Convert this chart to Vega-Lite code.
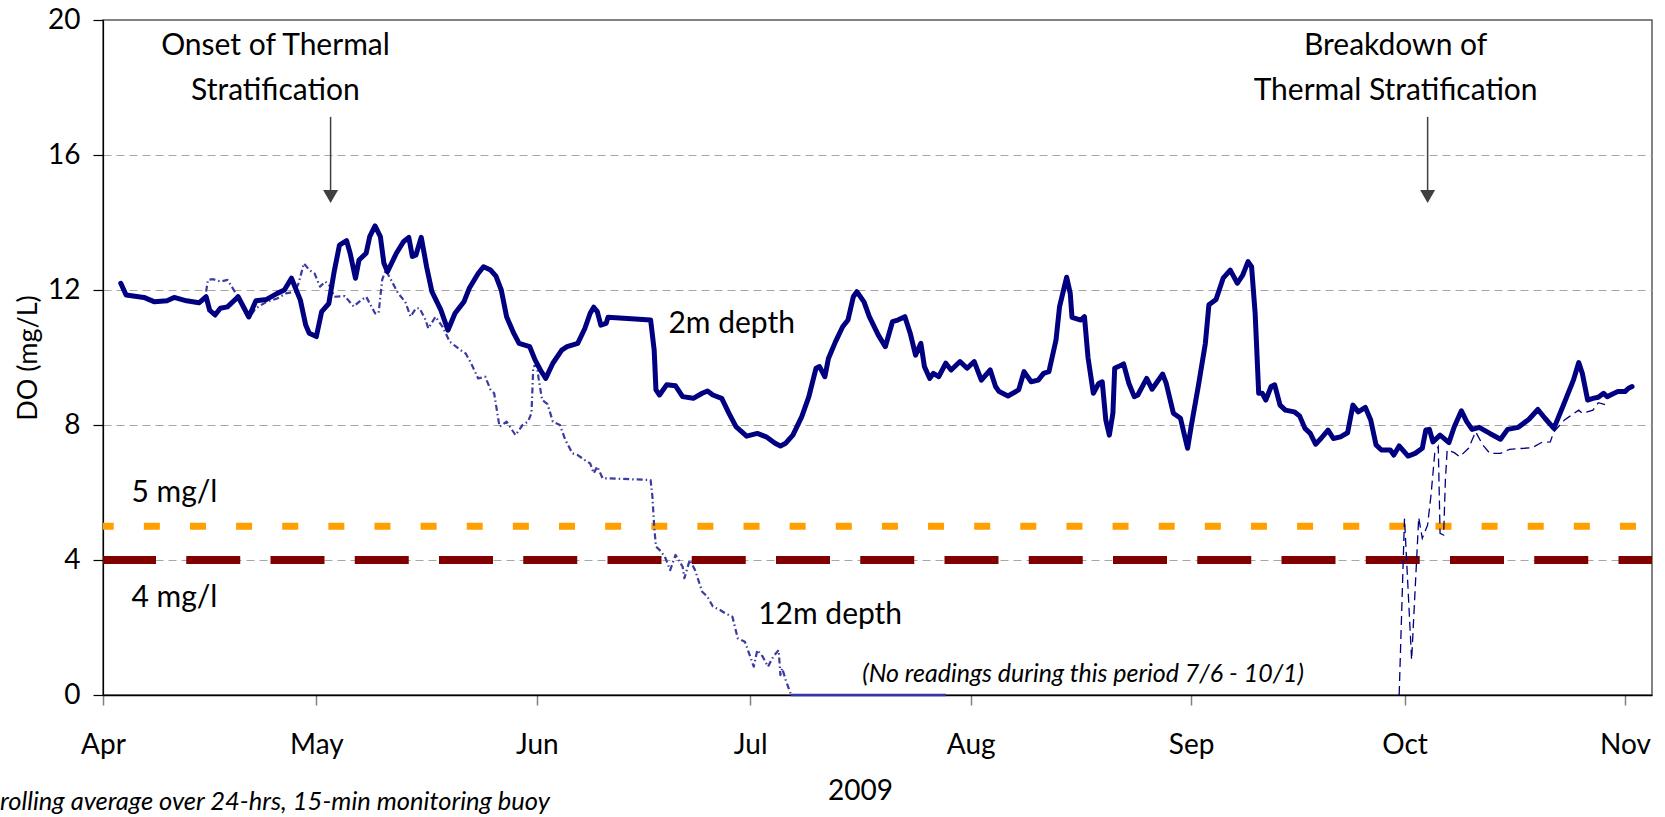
{
  "$schema": "https://vega.github.io/schema/vega-lite/v6.json",
  "width": 1549,
  "height": 675,
  "autosize": "none",
  "padding": {"left": 103, "top": 20, "right": 13, "bottom": 122},
  "background": "white",
  "config": {
    "font": "Lato",
    "view": {"stroke": "#595959", "strokeWidth": 1.5},
    "axis": {"labelFont": "Lato", "titleFont": "Lato"},
    "text": {"font": "Lato"}
  },
  "title": {
    "text": "rolling average over 24-hrs, 15-min monitoring buoy",
    "orient": "bottom", "anchor": "start", "frame": "group",
    "dx": -103, "offset": -15,
    "font": "Lato", "fontSize": 25.5, "fontStyle": "italic", "fontWeight": "normal", "color": "#000000"
  },
  "datasets": {
    "do2m": [
      {"date":"2009-04-03T12:00Z","v":12.2},{"date":"2009-04-04T06:00Z","v":11.85},{"date":"2009-04-05T06:00Z","v":11.82},{"date":"2009-04-06T18:00Z","v":11.78},{"date":"2009-04-08T06:00Z","v":11.65},{"date":"2009-04-10T00:00Z","v":11.68},{"date":"2009-04-11T00:00Z","v":11.78},{"date":"2009-04-12T18:00Z","v":11.68},{"date":"2009-04-14T12:00Z","v":11.62},{"date":"2009-04-15T12:00Z","v":11.8},{"date":"2009-04-16T00:00Z","v":11.4},{"date":"2009-04-16T18:00Z","v":11.26},{"date":"2009-04-17T12:00Z","v":11.46},{"date":"2009-04-18T12:00Z","v":11.5},{"date":"2009-04-20T00:00Z","v":11.8},{"date":"2009-04-21T12:00Z","v":11.2},{"date":"2009-04-22T12:00Z","v":11.68},{"date":"2009-04-24T00:00Z","v":11.72},{"date":"2009-04-25T12:00Z","v":11.9},{"date":"2009-04-26T12:00Z","v":12.0},{"date":"2009-04-27T12:00Z","v":12.35},{"date":"2009-04-28T18:00Z","v":11.7},{"date":"2009-04-29T12:00Z","v":10.96},{"date":"2009-04-30T00:00Z","v":10.72},
      {"date":"2009-05-01T00:00Z","v":10.62},{"date":"2009-05-01T18:00Z","v":11.36},{"date":"2009-05-02T18:00Z","v":11.6},{"date":"2009-05-03T12:00Z","v":12.54},{"date":"2009-05-04T06:00Z","v":13.33},{"date":"2009-05-05T06:00Z","v":13.46},{"date":"2009-05-05T18:00Z","v":13.09},{"date":"2009-05-06T12:00Z","v":12.35},{"date":"2009-05-07T00:00Z","v":12.89},{"date":"2009-05-08T00:00Z","v":13.09},{"date":"2009-05-08T12:00Z","v":13.58},{"date":"2009-05-09T06:00Z","v":13.9},{"date":"2009-05-10T00:00Z","v":13.58},{"date":"2009-05-10T12:00Z","v":12.79},{"date":"2009-05-11T00:00Z","v":12.54},{"date":"2009-05-12T06:00Z","v":13.09},{"date":"2009-05-13T06:00Z","v":13.43},{"date":"2009-05-14T00:00Z","v":13.56},{"date":"2009-05-14T12:00Z","v":12.99},{"date":"2009-05-15T00:00Z","v":13.04},{"date":"2009-05-15T18:00Z","v":13.56},{"date":"2009-05-16T12:00Z","v":12.69},{"date":"2009-05-17T06:00Z","v":11.95},{"date":"2009-05-18T12:00Z","v":11.41},{"date":"2009-05-19T12:00Z","v":10.81},{"date":"2009-05-20T12:00Z","v":11.31},{"date":"2009-05-21T18:00Z","v":11.65},{"date":"2009-05-22T12:00Z","v":12.05},{"date":"2009-05-23T18:00Z","v":12.49},{"date":"2009-05-24T12:00Z","v":12.69},{"date":"2009-05-25T12:00Z","v":12.59},{"date":"2009-05-26T06:00Z","v":12.41},{"date":"2009-05-27T00:00Z","v":12.0},{"date":"2009-05-27T18:00Z","v":11.21},{"date":"2009-05-28T18:00Z","v":10.72},{"date":"2009-05-29T12:00Z","v":10.42},{"date":"2009-05-31T00:00Z","v":10.32},{"date":"2009-05-31T18:00Z","v":9.93},
      {"date":"2009-06-01T12:00Z","v":9.63},{"date":"2009-06-02T06:00Z","v":9.38},{"date":"2009-06-03T06:00Z","v":9.83},{"date":"2009-06-04T12:00Z","v":10.22},{"date":"2009-06-05T06:00Z","v":10.32},{"date":"2009-06-06T18:00Z","v":10.42},{"date":"2009-06-07T18:00Z","v":10.86},{"date":"2009-06-08T12:00Z","v":11.31},{"date":"2009-06-09T00:00Z","v":11.49},{"date":"2009-06-09T12:00Z","v":11.36},{"date":"2009-06-10T00:00Z","v":10.96},{"date":"2009-06-10T18:00Z","v":11.01},{"date":"2009-06-11T00:00Z","v":11.19},{"date":"2009-06-17T00:00Z","v":11.11},{"date":"2009-06-17T12:00Z","v":10.22},{"date":"2009-06-17T18:00Z","v":9.04},{"date":"2009-06-18T06:00Z","v":8.89},{"date":"2009-06-19T06:00Z","v":9.19},{"date":"2009-06-20T12:00Z","v":9.16},{"date":"2009-06-21T12:00Z","v":8.84},{"date":"2009-06-23T00:00Z","v":8.79},{"date":"2009-06-24T06:00Z","v":8.94},{"date":"2009-06-25T00:00Z","v":9.01},{"date":"2009-06-25T18:00Z","v":8.89},{"date":"2009-06-27T00:00Z","v":8.79},{"date":"2009-06-28T00:00Z","v":8.35},{"date":"2009-06-29T00:00Z","v":7.95},{"date":"2009-06-30T12:00Z","v":7.67},
      {"date":"2009-07-02T00:00Z","v":7.75},{"date":"2009-07-03T06:00Z","v":7.65},{"date":"2009-07-04T12:00Z","v":7.46},{"date":"2009-07-05T06:00Z","v":7.38},{"date":"2009-07-06T00:00Z","v":7.46},{"date":"2009-07-07T00:00Z","v":7.7},{"date":"2009-07-08T06:00Z","v":8.25},{"date":"2009-07-09T06:00Z","v":8.84},{"date":"2009-07-10T06:00Z","v":9.68},{"date":"2009-07-10T18:00Z","v":9.73},{"date":"2009-07-11T12:00Z","v":9.43},{"date":"2009-07-12T00:00Z","v":9.97},{"date":"2009-07-13T00:00Z","v":10.47},{"date":"2009-07-14T00:00Z","v":10.91},{"date":"2009-07-14T18:00Z","v":11.11},{"date":"2009-07-15T12:00Z","v":11.8},{"date":"2009-07-16T00:00Z","v":11.95},{"date":"2009-07-17T00:00Z","v":11.65},{"date":"2009-07-17T18:00Z","v":11.21},{"date":"2009-07-19T00:00Z","v":10.67},{"date":"2009-07-20T00:00Z","v":10.32},{"date":"2009-07-21T00:00Z","v":11.06},{"date":"2009-07-21T18:00Z","v":11.11},{"date":"2009-07-22T18:00Z","v":11.21},{"date":"2009-07-23T12:00Z","v":10.72},{"date":"2009-07-24T06:00Z","v":10.07},{"date":"2009-07-25T00:00Z","v":10.42},{"date":"2009-07-25T12:00Z","v":9.73},{"date":"2009-07-26T06:00Z","v":9.38},{"date":"2009-07-26T18:00Z","v":9.53},{"date":"2009-07-27T12:00Z","v":9.43},{"date":"2009-07-28T12:00Z","v":9.83},{"date":"2009-07-29T06:00Z","v":9.63},{"date":"2009-07-30T12:00Z","v":9.88},{"date":"2009-07-31T12:00Z","v":9.68},
      {"date":"2009-08-01T12:00Z","v":9.88},{"date":"2009-08-02T12:00Z","v":9.33},{"date":"2009-08-03T18:00Z","v":9.63},{"date":"2009-08-04T12:00Z","v":9.14},{"date":"2009-08-05T00:00Z","v":8.99},{"date":"2009-08-06T06:00Z","v":8.86},{"date":"2009-08-07T18:00Z","v":9.04},{"date":"2009-08-08T12:00Z","v":9.58},{"date":"2009-08-09T12:00Z","v":9.28},{"date":"2009-08-10T12:00Z","v":9.33},{"date":"2009-08-11T06:00Z","v":9.53},{"date":"2009-08-12T00:00Z","v":9.58},{"date":"2009-08-13T00:00Z","v":10.52},{"date":"2009-08-13T12:00Z","v":11.51},{"date":"2009-08-14T12:00Z","v":12.38},{"date":"2009-08-15T00:00Z","v":11.9},{"date":"2009-08-15T06:00Z","v":11.19},{"date":"2009-08-16T12:00Z","v":11.11},{"date":"2009-08-17T00:00Z","v":11.21},{"date":"2009-08-17T12:00Z","v":10.0},{"date":"2009-08-18T06:00Z","v":8.94},{"date":"2009-08-19T00:00Z","v":9.23},{"date":"2009-08-19T12:00Z","v":9.28},{"date":"2009-08-20T00:00Z","v":8.15},{"date":"2009-08-20T12:00Z","v":7.7},{"date":"2009-08-21T00:00Z","v":8.35},{"date":"2009-08-21T06:00Z","v":9.68},{"date":"2009-08-21T18:00Z","v":9.73},{"date":"2009-08-22T12:00Z","v":9.81},{"date":"2009-08-23T06:00Z","v":9.23},{"date":"2009-08-24T00:00Z","v":8.84},{"date":"2009-08-24T12:00Z","v":8.89},{"date":"2009-08-25T18:00Z","v":9.38},{"date":"2009-08-26T12:00Z","v":9.06},{"date":"2009-08-28T00:00Z","v":9.51},{"date":"2009-08-28T12:00Z","v":9.23},{"date":"2009-08-29T12:00Z","v":8.35},{"date":"2009-08-30T12:00Z","v":8.2},{"date":"2009-08-31T00:00Z","v":7.75},{"date":"2009-08-31T12:00Z","v":7.31},
      {"date":"2009-09-01T00:00Z","v":7.95},{"date":"2009-09-02T00:00Z","v":9.14},{"date":"2009-09-03T00:00Z","v":10.42},{"date":"2009-09-03T12:00Z","v":11.56},{"date":"2009-09-04T12:00Z","v":11.72},{"date":"2009-09-05T12:00Z","v":12.35},{"date":"2009-09-06T12:00Z","v":12.59},{"date":"2009-09-07T12:00Z","v":12.2},{"date":"2009-09-08T06:00Z","v":12.44},{"date":"2009-09-09T00:00Z","v":12.84},{"date":"2009-09-09T12:00Z","v":12.69},{"date":"2009-09-10T00:00Z","v":11.31},{"date":"2009-09-10T12:00Z","v":8.94},{"date":"2009-09-11T00:00Z","v":8.94},{"date":"2009-09-11T12:00Z","v":8.74},{"date":"2009-09-12T06:00Z","v":9.14},{"date":"2009-09-12T18:00Z","v":9.19},{"date":"2009-09-13T12:00Z","v":8.59},{"date":"2009-09-14T06:00Z","v":8.44},{"date":"2009-09-15T12:00Z","v":8.39},{"date":"2009-09-16T06:00Z","v":8.27},{"date":"2009-09-17T00:00Z","v":7.9},{"date":"2009-09-17T18:00Z","v":7.75},{"date":"2009-09-18T12:00Z","v":7.43},{"date":"2009-09-19T06:00Z","v":7.6},{"date":"2009-09-20T06:00Z","v":7.85},{"date":"2009-09-21T00:00Z","v":7.6},{"date":"2009-09-22T00:00Z","v":7.65},{"date":"2009-09-23T00:00Z","v":7.77},{"date":"2009-09-23T18:00Z","v":8.59},{"date":"2009-09-24T12:00Z","v":8.39},{"date":"2009-09-25T12:00Z","v":8.52},{"date":"2009-09-26T06:00Z","v":8.15},{"date":"2009-09-27T00:00Z","v":7.41},{"date":"2009-09-27T18:00Z","v":7.26},{"date":"2009-09-29T00:00Z","v":7.26},{"date":"2009-09-29T12:00Z","v":7.11},{"date":"2009-09-30T06:00Z","v":7.38},
      {"date":"2009-10-01T12:00Z","v":7.08},{"date":"2009-10-02T12:00Z","v":7.16},{"date":"2009-10-03T12:00Z","v":7.31},{"date":"2009-10-04T00:00Z","v":7.85},{"date":"2009-10-04T12:00Z","v":7.87},{"date":"2009-10-05T00:00Z","v":7.5},{"date":"2009-10-06T00:00Z","v":7.7},{"date":"2009-10-07T06:00Z","v":7.48},{"date":"2009-10-08T00:00Z","v":7.95},{"date":"2009-10-09T00:00Z","v":8.42},{"date":"2009-10-09T18:00Z","v":8.1},{"date":"2009-10-10T12:00Z","v":7.87},{"date":"2009-10-11T12:00Z","v":7.93},{"date":"2009-10-13T00:00Z","v":7.75},{"date":"2009-10-14T12:00Z","v":7.58},{"date":"2009-10-15T12:00Z","v":7.87},{"date":"2009-10-17T00:00Z","v":7.93},{"date":"2009-10-18T12:00Z","v":8.17},{"date":"2009-10-19T18:00Z","v":8.46},{"date":"2009-10-20T18:00Z","v":8.2},{"date":"2009-10-22T00:00Z","v":7.9},{"date":"2009-10-23T06:00Z","v":8.54},{"date":"2009-10-24T18:00Z","v":9.33},{"date":"2009-10-25T12:00Z","v":9.85},{"date":"2009-10-26T00:00Z","v":9.53},{"date":"2009-10-26T18:00Z","v":8.74},{"date":"2009-10-27T12:00Z","v":8.79},{"date":"2009-10-28T06:00Z","v":8.82},{"date":"2009-10-29T00:00Z","v":8.94},{"date":"2009-10-29T12:00Z","v":8.84},{"date":"2009-10-30T06:00Z","v":8.92},{"date":"2009-10-31T00:00Z","v":8.99},{"date":"2009-11-01T00:00Z","v":8.99},{"date":"2009-11-01T12:00Z","v":9.09},{"date":"2009-11-02T00:00Z","v":9.14}
    ],
    "do12m_spring": [
      {"date":"2009-04-15T12:00Z","v":11.95},{"date":"2009-04-15T18:00Z","v":12.3},{"date":"2009-04-16T12:00Z","v":12.32},{"date":"2009-04-17T12:00Z","v":12.25},{"date":"2009-04-18T12:00Z","v":12.3},{"date":"2009-04-19T06:00Z","v":12.05},{"date":"2009-04-20T06:00Z","v":11.7},{"date":"2009-04-21T12:00Z","v":11.16},{"date":"2009-04-22T12:00Z","v":11.46},{"date":"2009-04-24T00:00Z","v":11.65},{"date":"2009-04-25T12:00Z","v":11.75},{"date":"2009-04-26T18:00Z","v":11.9},{"date":"2009-04-28T00:00Z","v":11.95},{"date":"2009-04-28T12:00Z","v":12.2},{"date":"2009-04-29T06:00Z","v":12.79},{"date":"2009-04-30T00:00Z","v":12.59},{"date":"2009-04-30T18:00Z","v":12.49},
      {"date":"2009-05-01T12:00Z","v":12.1},{"date":"2009-05-02T06:00Z","v":12.25},{"date":"2009-05-03T00:00Z","v":12.1},{"date":"2009-05-03T12:00Z","v":11.8},{"date":"2009-05-05T00:00Z","v":11.82},{"date":"2009-05-06T06:00Z","v":11.51},{"date":"2009-05-07T00:00Z","v":11.65},{"date":"2009-05-08T00:00Z","v":11.8},{"date":"2009-05-08T18:00Z","v":11.51},{"date":"2009-05-09T06:00Z","v":11.31},{"date":"2009-05-09T18:00Z","v":11.31},{"date":"2009-05-10T06:00Z","v":12.3},{"date":"2009-05-10T18:00Z","v":12.59},{"date":"2009-05-11T12:00Z","v":12.3},{"date":"2009-05-12T12:00Z","v":11.9},{"date":"2009-05-13T12:00Z","v":11.65},{"date":"2009-05-14T06:00Z","v":11.21},{"date":"2009-05-15T00:00Z","v":11.46},{"date":"2009-05-15T12:00Z","v":11.46},{"date":"2009-05-16T06:00Z","v":11.16},{"date":"2009-05-16T18:00Z","v":10.86},{"date":"2009-05-17T18:00Z","v":11.21},{"date":"2009-05-18T18:00Z","v":10.91},{"date":"2009-05-19T18:00Z","v":10.47},{"date":"2009-05-21T06:00Z","v":10.22},{"date":"2009-05-22T00:00Z","v":10.12},{"date":"2009-05-22T18:00Z","v":9.83},{"date":"2009-05-23T18:00Z","v":9.38},{"date":"2009-05-24T18:00Z","v":9.43},{"date":"2009-05-25T12:00Z","v":9.04},{"date":"2009-05-26T00:00Z","v":8.94},{"date":"2009-05-26T18:00Z","v":7.95},{"date":"2009-05-27T18:00Z","v":8.1},{"date":"2009-05-29T00:00Z","v":7.7},{"date":"2009-05-30T00:00Z","v":8.0},{"date":"2009-05-30T18:00Z","v":8.1},{"date":"2009-05-31T06:00Z","v":8.35},{"date":"2009-05-31T12:00Z","v":9.73},
      {"date":"2009-06-01T00:00Z","v":9.78},{"date":"2009-06-01T06:00Z","v":9.38},{"date":"2009-06-01T18:00Z","v":8.74},{"date":"2009-06-02T12:00Z","v":8.62},{"date":"2009-06-03T06:00Z","v":8.1},{"date":"2009-06-04T06:00Z","v":8.0},{"date":"2009-06-05T00:00Z","v":7.56},{"date":"2009-06-06T00:00Z","v":7.16},{"date":"2009-06-06T18:00Z","v":7.11},{"date":"2009-06-07T18:00Z","v":6.96},{"date":"2009-06-08T12:00Z","v":6.86},{"date":"2009-06-09T00:00Z","v":6.57},{"date":"2009-06-09T12:00Z","v":6.77},{"date":"2009-06-10T06:00Z","v":6.42},{"date":"2009-06-11T00:00Z","v":6.42},{"date":"2009-06-17T00:00Z","v":6.37},{"date":"2009-06-17T06:00Z","v":5.88},{"date":"2009-06-17T12:00Z","v":4.99},{"date":"2009-06-17T18:00Z","v":4.4},{"date":"2009-06-18T06:00Z","v":4.3},{"date":"2009-06-19T00:00Z","v":4.1},{"date":"2009-06-19T18:00Z","v":3.7},{"date":"2009-06-20T12:00Z","v":4.15},{"date":"2009-06-21T12:00Z","v":3.8},{"date":"2009-06-21T18:00Z","v":3.46},{"date":"2009-06-22T12:00Z","v":4.0},{"date":"2009-06-23T06:00Z","v":3.7},{"date":"2009-06-24T06:00Z","v":3.06},{"date":"2009-06-25T00:00Z","v":2.91},{"date":"2009-06-25T18:00Z","v":2.62},{"date":"2009-06-26T18:00Z","v":2.52},{"date":"2009-06-27T12:00Z","v":2.42},{"date":"2009-06-28T12:00Z","v":2.32},{"date":"2009-06-29T06:00Z","v":1.68},{"date":"2009-06-30T06:00Z","v":1.58},
      {"date":"2009-07-01T00:00Z","v":1.14},{"date":"2009-07-01T12:00Z","v":0.84},{"date":"2009-07-02T00:00Z","v":1.33},{"date":"2009-07-02T18:00Z","v":1.14},{"date":"2009-07-03T12:00Z","v":0.84},{"date":"2009-07-04T06:00Z","v":1.14},{"date":"2009-07-05T00:00Z","v":1.33},{"date":"2009-07-05T06:00Z","v":0.59},{"date":"2009-07-05T12:00Z","v":0.79},{"date":"2009-07-06T00:00Z","v":0.44},{"date":"2009-07-06T18:00Z","v":0.0}
    ],
    "do12m_zero": [
      {"date":"2009-07-06T18:00Z","v":0.0},{"date":"2009-07-28T12:00Z","v":0.0}
    ],
    "do12m_fall": [
      {"date":"2009-09-30T06:00Z","v":0.0},{"date":"2009-10-01T00:00Z","v":5.23},{"date":"2009-10-02T00:00Z","v":1.04},{"date":"2009-10-03T00:00Z","v":5.26},{"date":"2009-10-03T12:00Z","v":4.64},{"date":"2009-10-04T06:00Z","v":5.04},{"date":"2009-10-04T18:00Z","v":5.97},{"date":"2009-10-05T06:00Z","v":7.16},{"date":"2009-10-05T18:00Z","v":7.36},{"date":"2009-10-06T00:00Z","v":4.79},{"date":"2009-10-06T12:00Z","v":4.74},{"date":"2009-10-06T18:00Z","v":6.37},{"date":"2009-10-07T00:00Z","v":7.26},{"date":"2009-10-08T00:00Z","v":7.18},{"date":"2009-10-08T18:00Z","v":7.06},{"date":"2009-10-10T00:00Z","v":7.31},{"date":"2009-10-11T00:00Z","v":7.8},{"date":"2009-10-12T00:00Z","v":7.41},{"date":"2009-10-13T00:00Z","v":7.16},{"date":"2009-10-14T12:00Z","v":7.16},{"date":"2009-10-15T18:00Z","v":7.28},{"date":"2009-10-17T18:00Z","v":7.31},{"date":"2009-10-19T00:00Z","v":7.33},{"date":"2009-10-20T06:00Z","v":7.48},{"date":"2009-10-21T12:00Z","v":7.5},{"date":"2009-10-22T00:00Z","v":7.8},{"date":"2009-10-23T12:00Z","v":8.15},{"date":"2009-10-25T12:00Z","v":8.44},{"date":"2009-10-26T00:00Z","v":8.35},{"date":"2009-10-27T12:00Z","v":8.44},{"date":"2009-10-28T06:00Z","v":8.66},{"date":"2009-10-29T12:00Z","v":8.59}
    ],
    "labelsLeft": [
      {"date":"2009-06-19T12:00Z","v":10.73,"text":"2m depth"},
      {"date":"2009-07-02T03:00Z","v":2.09,"text":"12m depth"},
      {"date":"2009-04-05T00:00Z","v":5.72,"text":"5 mg/l"},
      {"date":"2009-04-05T00:00Z","v":2.6,"text":"4 mg/l"}
    ],
    "labelsCenter": [
      {"date":"2009-04-25T06:00Z","v":18.96,"text":"Onset of Thermal"},
      {"date":"2009-04-25T06:00Z","v":17.62,"text":"Stratification"},
      {"date":"2009-09-29T18:00Z","v":18.96,"text":"Breakdown of"},
      {"date":"2009-09-29T18:00Z","v":17.62,"text":"Thermal Stratification"}
    ],
    "labelsItalic": [
      {"date":"2009-07-16T18:00Z","v":0.39,"text":"(No readings during this period 7/6 - 10/1)"}
    ],
    "arrows": [
      {"date":"2009-05-03T00:00Z","v":17.13,"v2":14.9},
      {"date":"2009-10-04T06:00Z","v":17.13,"v2":14.9}
    ],
    "heads": [
      {"date":"2009-05-03T00:00Z","v":14.77},
      {"date":"2009-10-04T06:00Z","v":14.77}
    ],
    "limit5": [{"date":"2009-04-01T00:00Z","date2":"2009-11-04T19:12Z","v":5}],
    "limit4": [{"date":"2009-04-01T00:00Z","date2":"2009-11-04T19:12Z","v":4}]
  },
  "encoding": {
    "x": {
      "field": "date", "type": "temporal",
      "scale": {"type": "utc", "domain": [{"year":2009,"month":4,"date":1,"utc":true},{"year":2009,"month":11,"date":4,"hours":19,"minutes":12,"utc":true}]},
      "axis": {
        "values": [
          {"year":2009,"month":4,"date":1,"utc":true},{"year":2009,"month":5,"date":1,"utc":true},{"year":2009,"month":6,"date":1,"utc":true},{"year":2009,"month":7,"date":1,"utc":true},{"year":2009,"month":8,"date":1,"utc":true},{"year":2009,"month":9,"date":1,"utc":true},{"year":2009,"month":10,"date":1,"utc":true},{"year":2009,"month":11,"date":1,"utc":true}
        ],
        "format": "%b",
        "labelFlush": false, "labelOverlap": false,
        "domainColor": "#000000", "domainWidth": 1.5,
        "tickColor": "#808080", "tickWidth": 1.5, "tickSize": 10,
        "labelFontSize": 28, "labelColor": "#000000", "labelPadding": 26,
        "grid": false,
        "title": "2009", "titleFontSize": 28, "titleFontWeight": "normal", "titleColor": "#000000",
        "titlePadding": 18, "titleX": 757
      }
    },
    "y": {
      "field": "v", "type": "quantitative",
      "scale": {"domain": [0, 20], "nice": false, "zero": true},
      "axis": {
        "values": [0, 4, 8, 12, 16, 20],
        "labelFlush": false,
        "domainColor": "#000000", "domainWidth": 1.2,
        "tickColor": "#000000", "tickWidth": 1.2, "tickSize": 10,
        "labelFontSize": 28, "labelColor": "#000000", "labelPadding": 13,
        "grid": true, "gridColor": "#A6A6A6", "gridDash": [8, 5], "gridWidth": 1.2,
        "gridOpacity": {"condition": {"test": "datum.value === 0 || datum.value === 20", "value": 0}, "value": 1},
        "title": "DO (mg/L)", "titleFontSize": 27, "titleFontWeight": "normal", "titleColor": "#000000",
        "titlePadding": 5
      }
    }
  },
  "layer": [
    {
      "data": {"name": "limit5"},
      "mark": {"type": "rule", "color": "#FFA000", "strokeWidth": 7, "strokeDash": [16, 30.13], "strokeDashOffset": 5.3, "strokeCap": "butt"},
      "encoding": {"x2": {"field": "date2"}}
    },
    {
      "data": {"name": "limit4"},
      "mark": {"type": "rule", "color": "#800000", "strokeWidth": 8, "strokeDash": [54, 30.25], "strokeDashOffset": 1, "strokeCap": "butt"},
      "encoding": {"x2": {"field": "date2"}}
    },
    {
      "data": {"name": "do12m_spring"},
      "mark": {"type": "line", "color": "#3B3BA0", "strokeWidth": 2.2, "strokeDash": [6, 3, 1.5, 3], "strokeJoin": "round"}
    },
    {
      "data": {"name": "do12m_zero"},
      "mark": {"type": "line", "color": "#3333AA", "strokeWidth": 2.5}
    },
    {
      "data": {"name": "do12m_fall"},
      "mark": {"type": "line", "color": "#000080", "strokeWidth": 1.3, "strokeDash": [9, 5]}
    },
    {
      "data": {"name": "do2m"},
      "mark": {"type": "line", "color": "#000080", "strokeWidth": 5, "strokeJoin": "round", "strokeCap": "round"}
    },
    {
      "data": {"name": "arrows"},
      "mark": {"type": "rule", "color": "#404040", "strokeWidth": 1.5},
      "encoding": {"y2": {"field": "v2"}}
    },
    {
      "data": {"name": "heads"},
      "mark": {"type": "point", "shape": "triangle-down", "filled": true, "color": "#404040", "size": 225, "opacity": 1}
    },
    {
      "data": {"name": "labelsLeft"},
      "mark": {"type": "text", "align": "left", "baseline": "alphabetic", "fontSize": 30, "color": "#000000", "font": "Lato"},
      "encoding": {"text": {"field": "text"}}
    },
    {
      "data": {"name": "labelsCenter"},
      "mark": {"type": "text", "align": "center", "baseline": "alphabetic", "fontSize": 30, "color": "#000000", "font": "Lato"},
      "encoding": {"text": {"field": "text"}}
    },
    {
      "data": {"name": "labelsItalic"},
      "mark": {"type": "text", "align": "left", "baseline": "alphabetic", "fontSize": 25, "fontStyle": "italic", "color": "#000000", "font": "Lato"},
      "encoding": {"text": {"field": "text"}}
    }
  ]
}
